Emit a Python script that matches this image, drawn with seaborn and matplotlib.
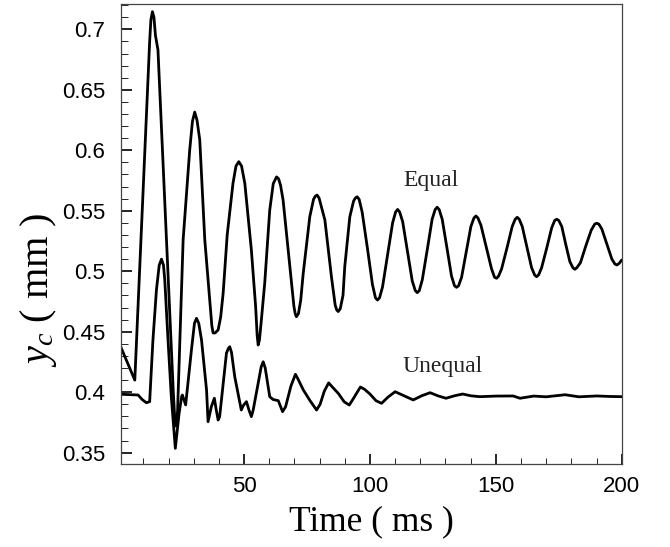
import matplotlib
matplotlib.use("Agg")
import matplotlib.pyplot as plt
import pandas as pd
import seaborn as sns
from matplotlib.ticker import MultipleLocator, FixedLocator, FixedFormatter

# ---------------- data ----------------
series_names = ["Equal", "Unequal"]

equal_t = [1.0, 6.6, 12.5, 13.0, 13.6, 14.2, 14.8, 15.8, 21.9, 22.5, 22.9, 23.3, 23.6,
           25.8, 28.4, 29.5, 30.4, 31.3, 32.4, 34.4, 36.4, 37.2, 37.7, 38.5, 39.7, 40.7,
           41.7, 43.3, 45.6, 46.8, 47.9, 49.0, 50.3, 52.9, 54.6, 55.2, 55.6, 56.1, 56.8,
           58.2, 60.2, 61.6, 62.9, 63.7, 64.5, 65.5, 68.2, 69.8, 70.3, 70.8, 71.6, 72.5,
           73.5, 76.1, 77.6, 78.3, 79.0, 79.8, 81.0, 82.1, 84.7, 86.2, 86.8, 87.4, 88.2,
           89.3, 90.0, 92.0, 93.5, 94.2, 94.9, 95.7, 96.9, 99.0, 101.0, 102.2, 103.0,
           103.8, 105.0, 107.0, 109.0, 110.2, 111.0, 111.8, 113.0, 114.9, 116.8, 118.0,
           118.8, 119.6, 120.8, 122.75, 124.7, 125.9, 126.7, 127.5, 128.7, 130.55, 132.4,
           133.6, 134.4, 135.2, 136.4, 138.25, 140.1, 141.3, 142.1, 142.9, 144.1, 146.2,
           148.3, 149.5, 150.3, 151.1, 152.3, 154.4, 156.5, 157.7, 158.5, 159.3, 160.5,
           162.35, 164.2, 165.4, 166.2, 167.0, 168.2, 170.2, 172.2, 173.4, 174.2, 175.0,
           176.2, 177.8, 179.4, 180.6, 181.4, 182.2, 183.6, 185.75, 187.9, 189.3, 190.1,
           190.9, 192.1, 194.1, 196.1, 197.3, 198.1, 199.0, 200.0]
equal_y = [0.4376, 0.410, 0.690, 0.708, 0.7146, 0.710, 0.695, 0.683, 0.400, 0.377, 0.372,
           0.376, 0.385, 0.526, 0.600, 0.624, 0.6316, 0.625, 0.6087, 0.526, 0.476, 0.455,
           0.449, 0.449, 0.4515, 0.462, 0.482, 0.530, 0.5727, 0.587, 0.5906, 0.587, 0.5727,
           0.5176, 0.4707, 0.447, 0.439, 0.443, 0.458, 0.490, 0.5506, 0.5725, 0.578, 0.5765,
           0.571, 0.5589, 0.5038, 0.471, 0.465, 0.4624, 0.465, 0.476, 0.4983, 0.545, 0.5595,
           0.562, 0.563, 0.5605, 0.551, 0.5424, 0.4955, 0.472, 0.468, 0.4667, 0.469, 0.480,
           0.5038, 0.545, 0.558, 0.5605, 0.5616, 0.5595, 0.549, 0.519, 0.489, 0.478, 0.4762,
           0.478, 0.487, 0.5137, 0.540, 0.549, 0.5511, 0.549, 0.541, 0.5167, 0.492, 0.484,
           0.4823, 0.484, 0.493, 0.5176, 0.543, 0.551, 0.5529, 0.551, 0.543, 0.5198, 0.496,
           0.488, 0.4867, 0.488, 0.495, 0.516, 0.537, 0.544, 0.5457, 0.544, 0.538, 0.520,
           0.502, 0.495, 0.4942, 0.496, 0.502, 0.519, 0.537, 0.543, 0.5446, 0.543, 0.537,
           0.520, 0.503, 0.497, 0.4955, 0.497, 0.503, 0.519, 0.536, 0.542, 0.543, 0.542,
           0.537, 0.522, 0.508, 0.503, 0.5016, 0.503, 0.507, 0.521, 0.534, 0.539, 0.5397,
           0.539, 0.535, 0.5225, 0.510, 0.506, 0.5052, 0.5065, 0.5093]

unequal_t = [1.0, 7.9, 9.5, 11.2, 12.5, 13.8, 15.2, 16.3, 17.2, 18.0, 18.5, 19.8, 21.1,
             22.7, 24.2, 25.2, 25.5, 26.8, 29.1, 30.3, 31.1, 32.0, 33.1, 35.1, 35.7, 37.0,
             38.2, 38.9, 39.7, 40.3, 43.0, 43.7, 44.3, 45.0, 46.3, 48.9, 49.7, 50.95, 52.0,
             52.9, 53.6, 55.6, 56.8, 57.6, 58.4, 60.2, 61.5, 63.6, 65.3, 66.5, 68.6, 70.4,
             71.4, 73.5, 76.2, 78.8, 80.2, 81.9, 83.6, 85.2, 87.4, 89.8, 91.8, 93.5, 96.2,
             97.8, 100.0, 102.4, 104.6, 107.2, 110.0, 113.6, 117.2, 120.5, 123.9, 127.0,
             130.2, 133.5, 136.8, 140.2, 143.7, 150.0, 156.9, 159.6, 165.0, 170.0, 177.5,
             183.0, 190.1, 195.0, 200.0]
unequal_y = [0.3983, 0.3977, 0.394, 0.3913, 0.3922, 0.443, 0.4847, 0.505, 0.510, 0.505,
             0.4928, 0.443, 0.3963, 0.3536, 0.3826, 0.3963, 0.3977, 0.3895, 0.435, 0.457,
             0.4611, 0.457, 0.4432, 0.4018, 0.3756, 0.388, 0.395, 0.386, 0.377, 0.3798,
             0.4322, 0.436, 0.4376, 0.433, 0.4128, 0.3853, 0.389, 0.3922, 0.385, 0.3798,
             0.385, 0.4074, 0.421, 0.4252, 0.420, 0.3963, 0.394, 0.393, 0.3839, 0.388,
             0.405, 0.4148, 0.411, 0.402, 0.393, 0.3853, 0.390, 0.401, 0.4077, 0.404,
             0.3991, 0.392, 0.3894, 0.395, 0.4043, 0.4025, 0.3985, 0.393, 0.3908, 0.396,
             0.4004, 0.397, 0.3936, 0.397, 0.3996, 0.397, 0.395, 0.397, 0.3985, 0.397,
             0.3963, 0.3968, 0.3969, 0.395, 0.3968, 0.3962, 0.3979, 0.3962, 0.3969, 0.3965,
             0.3963]

x_ticks = [50, 100, 150, 200]
x_tick_labels = ["50", "100", "150", "200"]
y_ticks = [0.35, 0.40, 0.45, 0.50, 0.55, 0.60, 0.65, 0.70]
y_tick_labels = ["0.35", "0.4", "0.45", "0.5", "0.55", "0.6", "0.65", "0.7"]
x_label = "Time ( ms )"
y_label = r"$y_c$ ( mm )"
annotations = {"Equal": (124.2, 0.5705), "Unequal": (128.8, 0.417)}

# ---------------- styling ----------------
sns.set_theme(style="ticks")
plt.rcParams["font.family"] = ["Liberation Sans", "DejaVu Sans"]
plt.rcParams["mathtext.fontset"] = "custom"
plt.rcParams["mathtext.it"] = "Liberation Serif:italic"
plt.rcParams["mathtext.rm"] = "Liberation Serif"

df = pd.DataFrame({
    "t": equal_t + unequal_t,
    "y": equal_y + unequal_y,
    "series": [series_names[0]] * len(equal_t) + [series_names[1]] * len(unequal_t),
})

W, H = 670, 547
fig = plt.figure(figsize=(W / 100, H / 100), dpi=100)
ax = fig.add_axes([120.7 / W, 1 - 464.3 / H, (621.7 - 120.7) / W, (464.3 - 4.3) / H])

sns.lineplot(data=df, x="t", y="y", hue="series", palette=["black", "black"],
             legend=False, ax=ax, linewidth=2.0, estimator=None, sort=False)
for ln in ax.lines:
    ln.set_solid_joinstyle("round")

ax.set_xlim(1, 200)
ax.set_ylim(0.3404, 0.7207)

ax.xaxis.set_major_locator(FixedLocator(x_ticks))
ax.xaxis.set_major_formatter(FixedFormatter(x_tick_labels))
ax.xaxis.set_minor_locator(MultipleLocator(10))
ax.yaxis.set_major_locator(FixedLocator(y_ticks))
ax.yaxis.set_major_formatter(FixedFormatter(y_tick_labels))
ax.yaxis.set_minor_locator(MultipleLocator(0.01))

ax.tick_params(axis="both", which="both", direction="in", colors="black",
               top=False, right=False)
ax.tick_params(axis="y", which="major", length=8, width=1.2, pad=11, labelsize=16)
ax.tick_params(axis="y", which="minor", length=5, width=0.6)
ax.tick_params(axis="x", which="major", length=7.5, width=1.2, pad=8.5, labelsize=16)
ax.tick_params(axis="x", which="minor", length=4.5, width=0.6)

for s in ax.spines.values():
    s.set_visible(True)
    s.set_color("#444444")
    s.set_linewidth(0.9)

ax.set_xlabel("")
ax.set_ylabel("")

for name, (tx, ty) in annotations.items():
    ax.text(tx, ty, name, ha="center", va="baseline", fontsize=17,
            family=["Liberation Serif"], color="#222222")

fig.text(371 / W, 1 - 522 / H, x_label, ha="center", va="center", fontsize=25.5,
         family=["Liberation Serif"], color="black")
fig.text(38.6 / W, 1 - 290 / H, y_label, ha="center", va="center", rotation=90,
         fontsize=29, family=["Liberation Serif"], color="black")

fig.savefig("out.png", dpi=100)
